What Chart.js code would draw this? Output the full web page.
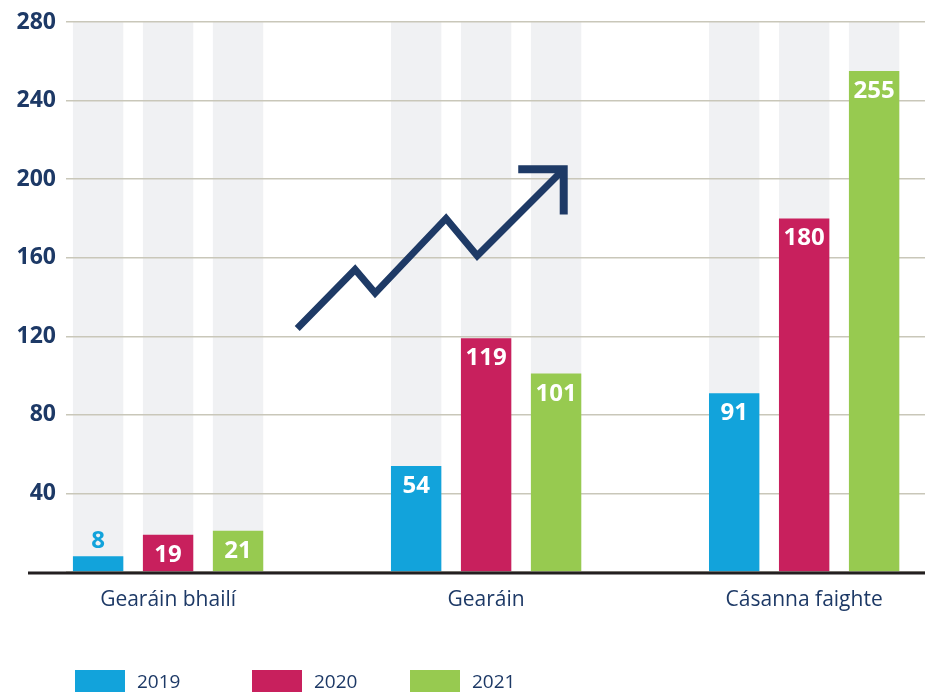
<!DOCTYPE html>
<html lang="ga">
<head>
    <meta charset="UTF-8">
    <title>Gearáin 2019 - 2021</title>
    <script src="https://cdn.jsdelivr.net/npm/chart.js@4.4.1/dist/chart.umd.min.js"></script>
    <style>
        html, body {
            margin: 0;
            padding: 0;
            background: #ffffff;
            overflow: hidden;
        }

        .wrap {
            position: relative;
            width: 925px;
            height: 692px;
        }

        .legend {
            position: absolute;
            left: 0;
            top: 670px;
            width: 925px;
            height: 30px;
            font-family: "Open Sans", sans-serif;
            font-size: 19px;
            line-height: 19px;
            color: #1d3966;
        }

        .legend-item {
            position: absolute;
            top: 0;
            display: flex;
            align-items: flex-start;
        }

        .legend-item .box {
            width: 50px;
            height: 24px;
            margin-right: 12px;
        }

        .legend-item .txt {
            margin-top: 2px;
        }
    </style>
</head>
<body>
    <div class="wrap">
        <canvas id="chart"></canvas>
        <div class="legend" id="legend"></div>
    </div>

    <script>
        // data
        var categories = ['Gearáin bhailí', 'Gearáin', 'Cásanna faighte'];
        var years = ['2019', '2020', '2021'];
        var values2019 = [8, 54, 91];
        var values2020 = [19, 119, 180];
        var values2021 = [21, 101, 255];
        var yMax = 280;
        var yStep = 40;

        var colors = ['#12a3db', '#c8205d', '#97ca50'];
        var navy = '#1d3966';

        // decorative rising arrow, in axis units (x = category index, y = value)
        var arrowShaft = [[0.406, 124], [0.588, 154], [0.651, 142], [0.874, 180], [0.972, 161], [1.244, 205]];
        var arrowHead = [[1.101, 205], [1.244, 205], [1.244, 182]];

        Chart.defaults.font.family = '"Open Sans", sans-serif';
        Chart.defaults.color = navy;

        var series = [values2019, values2020, values2021];

        // grey columns behind every bar, drawn before the grid
        var columnBackdrop = {
            id: 'columnBackdrop',
            beforeDraw: function (chart) {
                var ctx = chart.ctx, area = chart.chartArea;
                ctx.save();
                ctx.fillStyle = '#f0f1f3';
                chart.data.datasets.forEach(function (ds, i) {
                    chart.getDatasetMeta(i).data.forEach(function (bar) {
                        ctx.fillRect(bar.x - bar.width / 2, area.top, bar.width, bar.base - area.top);
                    });
                });
                ctx.restore();
            }
        };

        // value labels, base line and the arrow
        var overlay = {
            id: 'overlay',
            afterDatasetsDraw: function (chart) {
                var ctx = chart.ctx, area = chart.chartArea;
                var xs = chart.scales.x, ys = chart.scales.y;
                ctx.save();

                // base line
                var y0 = ys.getPixelForValue(0);
                ctx.strokeStyle = '#231f20';
                ctx.lineWidth = 3;
                ctx.beginPath();
                ctx.moveTo(area.left - 38, y0 + 1);
                ctx.lineTo(area.right, y0 + 1);
                ctx.stroke();

                // labels
                ctx.font = 'bold 24px "Open Sans", sans-serif';
                ctx.textAlign = 'center';
                ctx.textBaseline = 'alphabetic';
                chart.data.datasets.forEach(function (ds, i) {
                    chart.getDatasetMeta(i).data.forEach(function (bar, j) {
                        var v = ds.data[j].y;
                        if (bar.base - bar.y < 32) {
                            ctx.fillStyle = colors[i];
                            ctx.fillText(v, bar.x, bar.y - 8);
                        } else {
                            ctx.fillStyle = '#ffffff';
                            ctx.fillText(v, bar.x, bar.y + 27);
                        }
                    });
                });

                // arrow
                ctx.strokeStyle = '#1e3a66';
                ctx.lineJoin = 'miter';
                ctx.lineCap = 'butt';
                ctx.lineWidth = 7;
                ctx.beginPath();
                arrowShaft.forEach(function (p, k) {
                    var px = xs.getPixelForValue(p[0]), py = ys.getPixelForValue(p[1]);
                    if (k === 0) ctx.moveTo(px, py); else ctx.lineTo(px, py);
                });
                ctx.stroke();
                ctx.lineWidth = 8;
                ctx.beginPath();
                arrowHead.forEach(function (p, k) {
                    var px = xs.getPixelForValue(p[0]), py = ys.getPixelForValue(p[1]);
                    if (k === 0) ctx.moveTo(px, py); else ctx.lineTo(px, py);
                });
                ctx.stroke();

                ctx.restore();
            }
        };

        var ctx = document.getElementById('chart').getContext('2d');
        var chart = new Chart(ctx, {
            type: 'bar',
            data: {
                datasets: years.map(function (yr, i) {
                    return {
                        label: yr,
                        data: categories.map(function (c, j) { return { x: j, y: series[i][j] }; }),
                        backgroundColor: colors[i],
                        borderWidth: 0,
                        categoryPercentage: 0.66,
                        barPercentage: 0.72
                    };
                })
            },
            options: {
                responsive: true,
                maintainAspectRatio: false,
                animation: false,
                layout: { padding: { top: 22, right: 0, bottom: 72, left: 0 } },
                plugins: {
                    legend: { display: false },
                    tooltip: { enabled: false }
                },
                scales: {
                    x: {
                        type: 'linear',
                        offset: false,
                        min: -0.321,
                        max: 2.38,
                        grid: { display: false, drawTicks: false },
                        border: { display: false },
                        afterBuildTicks: function (s) {
                            s.ticks = categories.map(function (c, i) { return { value: i }; });
                        },
                        afterFit: function (s) { s.height = 48; },
                        ticks: {
                            autoSkip: false,
                            maxRotation: 0,
                            padding: 15,
                            color: navy,
                            font: { size: 21 },
                            callback: function (v) { return categories[v] || ''; }
                        }
                    },
                    y: {
                        min: 0,
                        max: yMax,
                        grid: { color: '#c9c7b9', lineWidth: 1.5, drawTicks: false },
                        border: { display: false },
                        afterFit: function (s) { s.width = 66; },
                        ticks: {
                            stepSize: yStep,
                            padding: 10,
                            color: navy,
                            font: { size: 23, weight: 'bold', lineHeight: 1 },
                            callback: function (v) { return v === 0 ? '' : v; }
                        }
                    }
                }
            },
            plugins: [columnBackdrop, overlay]
        });

        // legend built from the same series names and colours
        var legendLeft = [75, 252, 410];
        var legend = document.getElementById('legend');
        years.forEach(function (yr, i) {
            var item = document.createElement('div');
            item.className = 'legend-item';
            item.style.left = legendLeft[i] + 'px';
            item.innerHTML = '<div class="box" style="background:' + colors[i] + '"></div><div class="txt">' + yr + '</div>';
            legend.appendChild(item);
        });
    </script>
</body>
</html>
